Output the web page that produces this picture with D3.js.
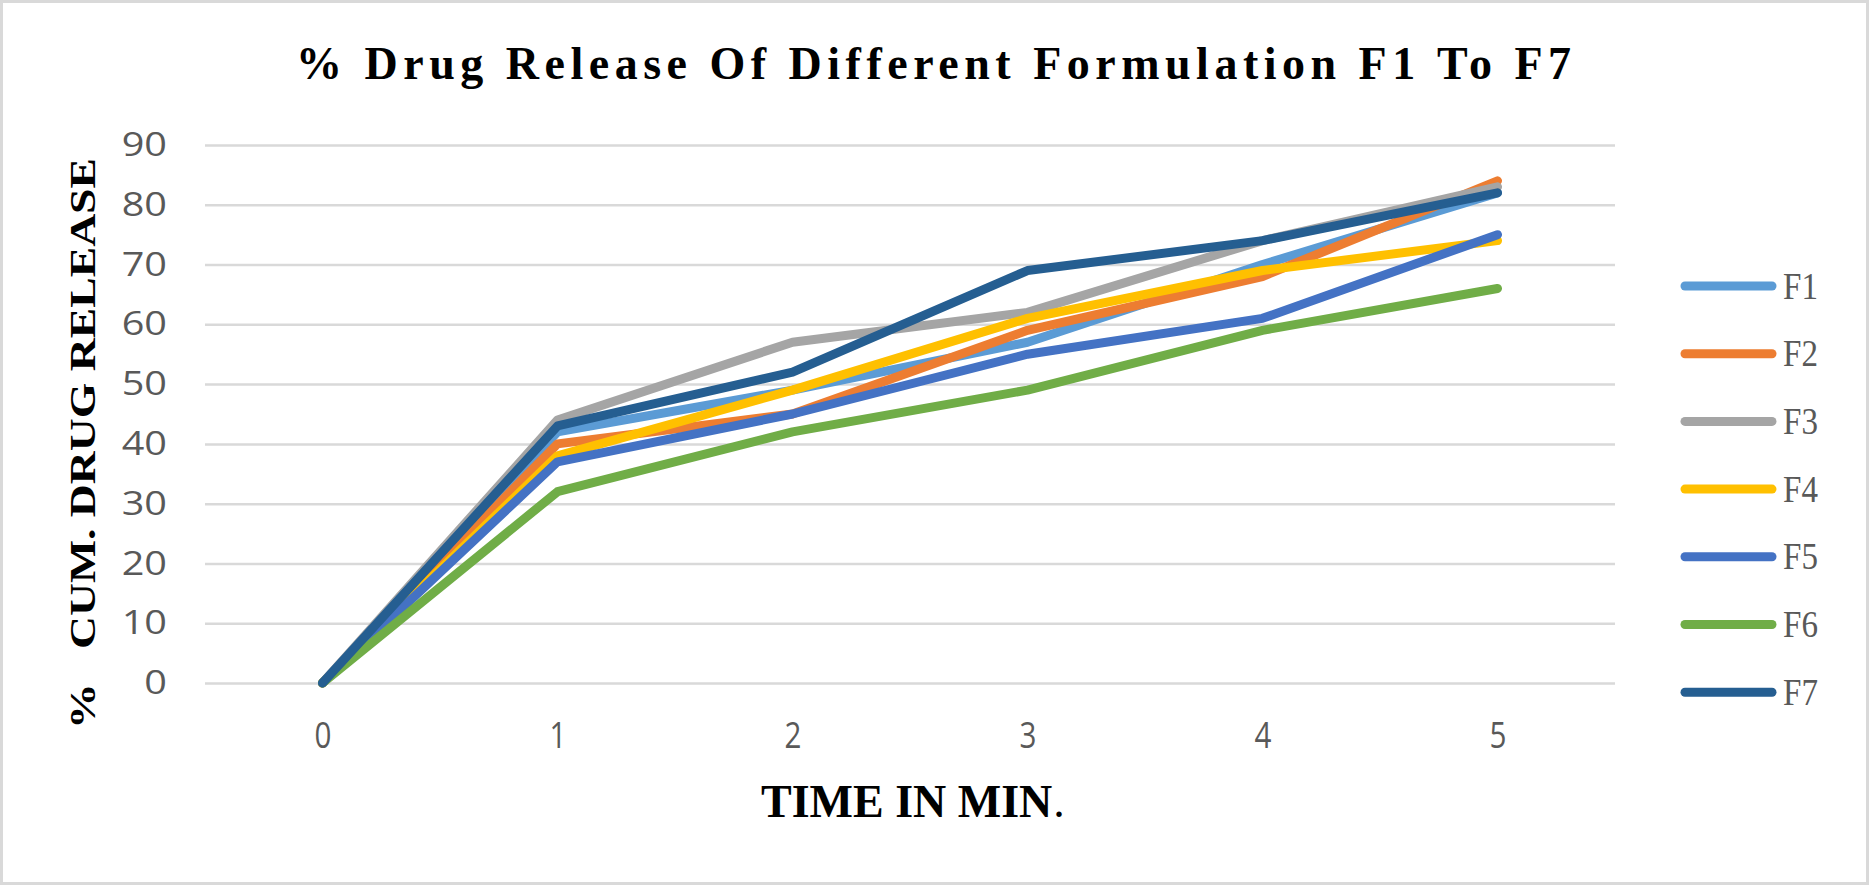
<!DOCTYPE html>
<html>
<head>
<meta charset="utf-8">
<script src="https://cdn.jsdelivr.net/npm/d3@7"></script>
<style>
  body { margin: 0; background: #fff; }
  svg { display: block; }
</style>
</head>
<body>
<div id="chart"></div>
<script>
// Data
const times = [0, 1, 2, 3, 4, 5];
const seriesNames = ["F1", "F2", "F3", "F4", "F5", "F6", "F7"];
const F1 = [0, 42, 49, 57, 70, 82];
const F2 = [0, 40, 45, 59, 68, 84];
const F3 = [0, 44, 57, 62, 74, 83];
const F4 = [0, 38, 49, 61, 69, 74];
const F5 = [0, 37, 45, 55, 61, 75];
const F6 = [0, 32, 42, 49, 59, 66];
const F7 = [0, 43, 52, 69, 74, 82];
const yTicks = [0, 10, 20, 30, 40, 50, 60, 70, 80, 90];
const colors = ["#5B9BD5", "#ED7D31", "#A5A5A5", "#FFC000", "#4472C4", "#70AD47", "#255E91"];

const seriesValues = [F1, F2, F3, F4, F5, F6, F7];

const W = 1869, H = 885;
const plot = {left: 205, right: 1615, top: 145, bottom: 683};

const svg = d3.select("#chart")
    .append("svg")
    .attr("width", W)
    .attr("height", H);

// Background and outer border
svg.append("rect")
    .attr("x", 1.5).attr("y", 1.5)
    .attr("width", W - 3).attr("height", H - 3)
    .attr("fill", "#fff")
    .attr("stroke", "#d9d9d9")
    .attr("stroke-width", 3);

// Scales
const x = d3.scalePoint()
    .domain(times)
    .range([plot.left, plot.right])
    .padding(0.5);

const y = d3.scaleLinear()
    .domain([0, 90])
    .range([plot.bottom, plot.top]);

// Gridlines + y tick labels
const yAxis = svg.append("g")
    .attr("transform", `translate(${plot.left},0)`)
    .call(d3.axisLeft(y).tickValues(yTicks)
        .tickSize(-(plot.right - plot.left))
        .tickFormat(d3.format("d")));
yAxis.select(".domain").remove();
yAxis.selectAll(".tick line")
    .attr("stroke", "#d9d9d9")
    .attr("stroke-width", 2.5);
yAxis.selectAll(".tick text")
    .attr("x", 0)
    .attr("transform", "translate(-38,0) scale(1.2,1)")
    .attr("fill", "#595959")
    .style("font-family", "'Open Sans', sans-serif")
    .style("font-size", "33px");

// X tick labels
const xAxis = svg.append("g")
    .attr("transform", `translate(0,${plot.bottom})`)
    .call(d3.axisBottom(x).tickSize(0).tickPadding(0));
xAxis.select(".domain").remove();
xAxis.selectAll(".tick text")
    .attr("fill", "#595959")
    .attr("y", 0)
    .attr("dy", null)
    .attr("transform", "translate(0,65) scale(0.8,1)")
    .style("font-family", "'Open Sans', sans-serif")
    .style("font-size", "37px");

// Lines
const line = d3.line()
    .x((d, i) => x(times[i]))
    .y(d => y(d));

svg.append("g")
    .selectAll("path")
    .data(seriesValues)
    .enter()
    .append("path")
    .attr("d", line)
    .attr("fill", "none")
    .attr("stroke", (d, i) => colors[i])
    .attr("stroke-width", 9)
    .attr("stroke-linecap", "round")
    .attr("stroke-linejoin", "round");

// Legend
const legend = svg.append("g")
    .selectAll("g")
    .data(seriesNames)
    .enter()
    .append("g")
    .attr("transform", (d, i) => `translate(0,${286 + i * 67.7})`);

legend.append("line")
    .attr("x1", 1685).attr("x2", 1772)
    .attr("y1", 0).attr("y2", 0)
    .attr("stroke", (d, i) => colors[i])
    .attr("stroke-width", 9)
    .attr("stroke-linecap", "round");

legend.append("text")
    .attr("transform", "translate(1783,12.5) scale(0.87,1)")
    .attr("fill", "#595959")
    .style("font-family", "'Liberation Serif', 'Times New Roman', serif")
    .style("font-size", "38px")
    .text(d => d);

// Title
svg.append("text")
    .attr("x", 296)
    .attr("y", 79)
    .attr("textLength", 1275)
    .attr("lengthAdjust", "spacing")
    .style("font-family", "'Liberation Serif', 'Times New Roman', serif")
    .style("font-weight", "bold")
    .style("font-size", "46px")
    .attr("fill", "#000")
    .text("% Drug Release Of Different Formulation F1 To F7");

// Y axis title (extra gap after the % sign, as in the source)
svg.append("text")
    .attr("transform", "translate(95,729) rotate(-90)")
    .attr("textLength", 571)
    .attr("lengthAdjust", "spacingAndGlyphs")
    .style("white-space", "pre")
    .style("font-family", "'Liberation Serif', 'Times New Roman', serif")
    .style("font-weight", "bold")
    .style("font-size", "35px")
    .attr("fill", "#000")
    .text("%   CUM. DRUG RELEASE");

// X axis title - bold words, plain full stop
const xTitle = svg.append("text")
    .attr("x", 761)
    .attr("y", 817)
    .style("font-family", "'Liberation Serif', 'Times New Roman', serif")
    .style("font-weight", "bold")
    .style("font-size", "46px")
    .attr("fill", "#000")
    .text("TIME IN MIN");
const xTitleEnd = 761 + xTitle.node().getComputedTextLength();
svg.append("text")
    .attr("x", xTitleEnd + 1)
    .attr("y", 817)
    .style("font-family", "'Liberation Serif', 'Times New Roman', serif")
    .style("font-size", "46px")
    .attr("fill", "#000")
    .text(".");
</script>
</body>
</html>
